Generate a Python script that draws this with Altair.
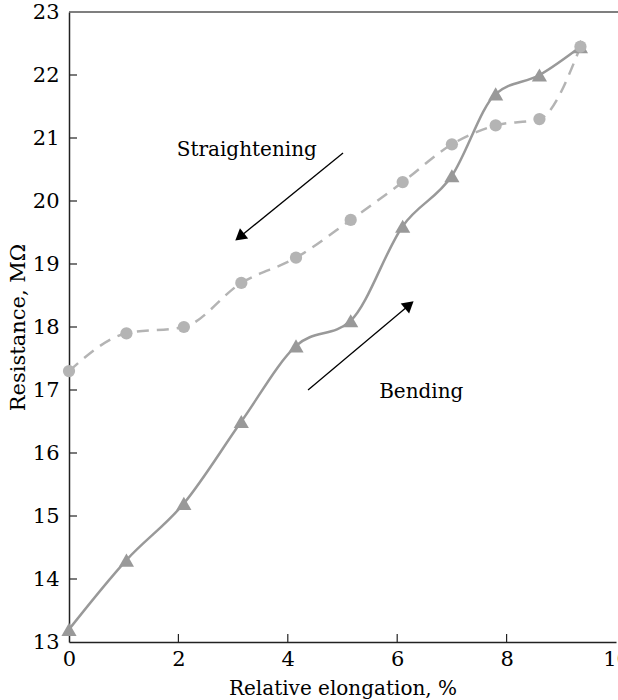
import math
import altair as alt
import pandas as pd

# ---- data ----
elong = [0, 1.05, 2.1, 3.15, 4.15, 5.15, 6.1, 7.0, 7.8, 8.6, 9.35]
bending = [13.2, 14.3, 15.2, 16.5, 17.7, 18.1, 19.6, 20.4, 21.7, 22.0, 22.45]
straightening = [17.3, 17.9, 18.0, 18.7, 19.1, 19.7, 20.3, 20.9, 21.2, 21.3, 22.45]

labels = ["Straightening", "Bending"]
label_x = [3.25, 6.44]
label_y = [20.81, 16.97]

# arrows: start -> end (data units)
arrow_x0 = [5.01, 4.37]
arrow_y0 = [20.76, 17.0]
arrow_x1 = [3.12, 6.22]
arrow_y1 = [19.43, 18.35]

y_ticks = list(range(14, 23))
x_ticks = [2, 4, 6, 8]

W, H = 547, 630
XD, YD = [0, 10], [13, 23]
FONT = "DejaVu Serif"

bend_df = pd.DataFrame({"x": elong, "y": bending})
str_df = pd.DataFrame({"x": elong, "y": straightening})

xs = alt.Scale(domain=XD, nice=False, zero=False)
ys = alt.Scale(domain=YD, nice=False, zero=False)

X = alt.X("x:Q", scale=xs, title="Relative elongation, %",
          axis=alt.Axis(values=[0, 2, 4, 6, 8, 10], ticks=False, grid=False,
                        labelFlush=False, labelFont=FONT, titleFont=FONT,
                        labelFontSize=21, titleFontSize=20,
                        labelPadding=6, titlePadding=9, format="d"))
Y = alt.Y("y:Q", scale=ys, title="Resistance, MΩ",
          axis=alt.Axis(values=list(range(13, 24)), ticks=False, grid=False,
                        labelFlush=False, labelFont=FONT, titleFont=FONT,
                        labelFontSize=21, titleFontSize=21,
                        labelPadding=10, titlePadding=4, format="d"))

bend_line = alt.Chart(bend_df).mark_line(
    color="#999999", strokeWidth=2.5, interpolate="monotone"
).encode(x=X, y=Y)
str_line = alt.Chart(str_df).mark_line(
    color="#b4b4b4", strokeWidth=2.5, interpolate="monotone", strokeDash=[12, 8]
).encode(x="x:Q", y="y:Q")
bend_pts = alt.Chart(bend_df).mark_point(
    shape="triangle-up", filled=True, opacity=1, color="#999999", size=230
).encode(x="x:Q", y="y:Q")
str_pts = alt.Chart(str_df).mark_point(
    shape="circle", filled=True, opacity=1, color="#b4b4b4", size=150
).encode(x="x:Q", y="y:Q")

# arrows
px_x = W / (XD[1] - XD[0])
px_y = H / (YD[1] - YD[0])
angles = []
for x0, y0, x1, y1 in zip(arrow_x0, arrow_y0, arrow_x1, arrow_y1):
    dx = (x1 - x0) * px_x
    dy = -(y1 - y0) * px_y
    angles.append(math.degrees(math.atan2(dx, -dy)) % 360)
arr_df = pd.DataFrame({"x": arrow_x0, "y": arrow_y0, "x2": arrow_x1, "y2": arrow_y1,
                       "angle": angles})
arr_line = alt.Chart(arr_df).mark_rule(color="black", strokeWidth=1.3).encode(
    x="x:Q", y="y:Q", x2="x2:Q", y2="y2:Q")
arr_head = alt.Chart(arr_df).mark_point(
    shape="triangle-up", filled=True, opacity=1, color="black", size=170
).encode(x="x2:Q", y="y2:Q", angle=alt.Angle("angle:Q", scale=None))

lab_df = pd.DataFrame({"t": labels, "x": label_x, "y": label_y})
texts = alt.Chart(lab_df).mark_text(font=FONT, fontSize=20, color="black").encode(
    x="x:Q", y="y:Q", text="t:N")

# inward ticks
yt_df = pd.DataFrame({"y": y_ticks})
xt_df = pd.DataFrame({"x": x_ticks})
ytick = alt.Chart(yt_df).mark_rule(color="#222222", strokeWidth=1.2).encode(
    y="y:Q", x=alt.value(0), x2=alt.value(8))
xtick = alt.Chart(xt_df).mark_rule(color="#222222", strokeWidth=1.2).encode(
    x="x:Q", y=alt.value(H), y2=alt.value(H - 8))

top_df = pd.DataFrame({"y": [YD[1]]})
top = alt.Chart(top_df).mark_rule(color="#555555", strokeWidth=1.5).encode(
    y="y:Q", x=alt.value(0), x2=alt.value(W + 2))

chart = alt.layer(
    bend_line, str_line, bend_pts, str_pts, arr_line, arr_head, texts, ytick, xtick, top
).properties(
    width=W, height=H,
    autosize=alt.AutoSizeParams(type="none"),
    padding={"left": 69, "top": 12, "right": 2, "bottom": 58},
).configure_view(stroke=None).configure_axis(
    labelColor="black", titleColor="black", titleFontWeight="normal",
    domainColor="#222222", domainWidth=1.5,
)

chart.save("out.html", embed_options={"renderer": "svg", "actions": False})
